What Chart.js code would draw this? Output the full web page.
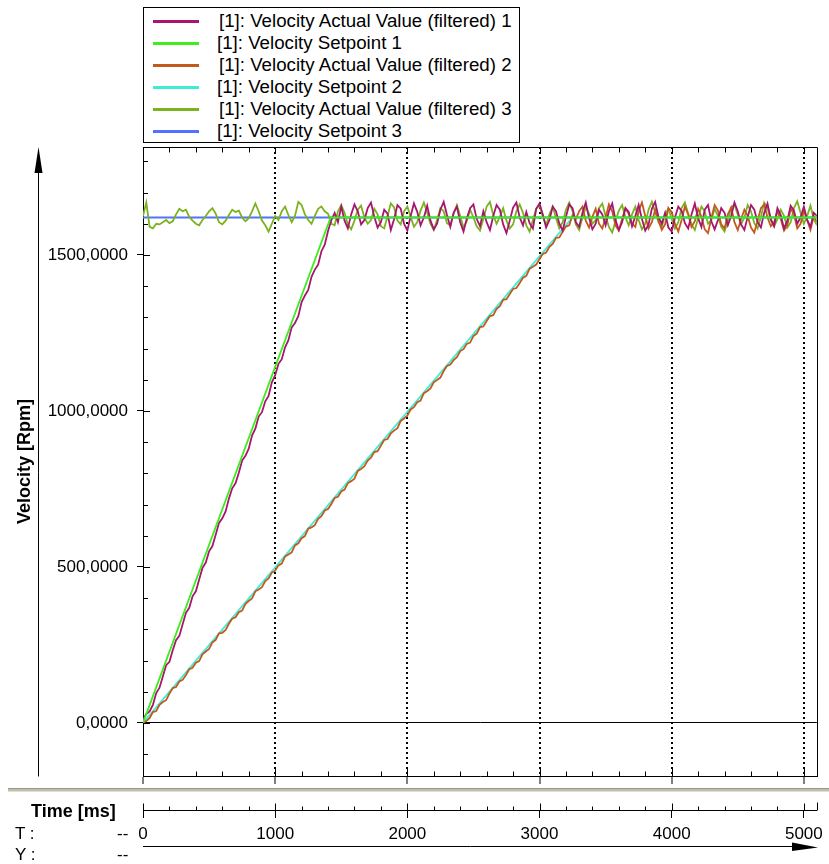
<!DOCTYPE html>
<html>
<head>
<meta charset="utf-8">
<title>Velocity</title>
<script src="https://cdn.jsdelivr.net/npm/chart.js@4.4.1/dist/chart.umd.min.js"></script>
<style>
  html, body { margin: 0; padding: 0; background: #fff; }
  body { width: 829px; height: 864px; position: relative; overflow: hidden;
         font-family: "Liberation Sans", Arial, sans-serif; color: #000; }
  #chart { position: absolute; left: 0; top: 0; }
  #legend { position: absolute; left: 143px; top: 7px; width: 375px; height: 134px;
            border: 1px solid #000; background: #fff; }
  .legend-item { position: absolute; left: 0; height: 22px; display: flex; align-items: center;
                 font-size: 18.7px; line-height: 1; white-space: nowrap; }
  .legend-swatch { width: 46px; height: 3px; margin-left: 9px; }
  .label { position: absolute; font-size: 17px; line-height: 1; white-space: nowrap; }
  .bold { font-weight: bold; font-size: 18px; }
</style>
</head>
<body>
<canvas id="chart" width="829" height="864"></canvas>
<div id="legend"></div>
<div class="label bold" style="left:31px;top:802px">Time [ms]</div>
<div class="label" style="left:15px;top:825px">T :</div>
<div class="label" style="left:117px;top:825px">--</div>
<div class="label" style="left:15px;top:846px">Y :</div>
<div class="label" style="left:117px;top:846px">--</div>

<script>
/* ── Data ─────────────────────────────────────────────── */

const seriesNames = [
  "[1]: Velocity Actual Value (filtered) 1",
  "[1]: Velocity Setpoint 1",
  "[1]: Velocity Actual Value (filtered) 2",
  "[1]: Velocity Setpoint 2",
  "[1]: Velocity Actual Value (filtered) 3",
  "[1]: Velocity Setpoint 3",
];
const seriesColors = ["#a8156f", "#3cee1e", "#c25a1e", "#40ecd8", "#7cb21e", "#4f72ff"];

// sample times of the recorded (filtered) actual values, ms
const timeMs = [
  0, 25, 50, 75, 100, 125, 150, 175, 200, 225, 250, 275, 300, 325, 350, 375, 400, 425, 450, 475,
  500, 525, 550, 575, 600, 625, 650, 675, 700, 725, 750, 775, 800, 825, 850, 875, 900, 925, 950, 975,
  1000, 1025, 1050, 1075, 1100, 1125, 1150, 1175, 1200, 1225, 1250, 1275, 1300, 1325, 1350, 1375, 1400, 1425, 1450, 1475,
  1500, 1525, 1550, 1575, 1600, 1625, 1650, 1675, 1700, 1725, 1750, 1775, 1800, 1825, 1850, 1875, 1900, 1925, 1950, 1975,
  2000, 2025, 2050, 2075, 2100, 2125, 2150, 2175, 2200, 2225, 2250, 2275, 2300, 2325, 2350, 2375, 2400, 2425, 2450, 2475,
  2500, 2525, 2550, 2575, 2600, 2625, 2650, 2675, 2700, 2725, 2750, 2775, 2800, 2825, 2850, 2875, 2900, 2925, 2950, 2975,
  3000, 3025, 3050, 3075, 3100, 3125, 3150, 3175, 3200, 3225, 3250, 3275, 3300, 3325, 3350, 3375, 3400, 3425, 3450, 3475,
  3500, 3525, 3550, 3575, 3600, 3625, 3650, 3675, 3700, 3725, 3750, 3775, 3800, 3825, 3850, 3875, 3900, 3925, 3950, 3975,
  4000, 4025, 4050, 4075, 4100, 4125, 4150, 4175, 4200, 4225, 4250, 4275, 4300, 4325, 4350, 4375, 4400, 4425, 4450, 4475,
  4500, 4525, 4550, 4575, 4600, 4625, 4650, 4675, 4700, 4725, 4750, 4775, 4800, 4825, 4850, 4875, 4900, 4925, 4950, 4975,
  5000, 5025, 5050, 5075, 5100,
];

const actual1 = [
  10, 29, 37, 58, 96, 113, 149, 185, 196, 233, 265, 279, 316, 353, 369, 406, 422, 460, 497, 514,
  550, 567, 603, 641, 656, 678, 719, 752, 768, 802, 841, 856, 879, 921, 943, 982, 996, 1031, 1048, 1092,
  1115, 1151, 1166, 1204, 1227, 1268, 1282, 1304, 1349, 1370, 1388, 1430, 1453, 1469, 1512, 1533, 1577, 1612, 1635, 1605,
  1655, 1610, 1585, 1630, 1662, 1640, 1598, 1612, 1650, 1668, 1622, 1588, 1605, 1645, 1632, 1580, 1615, 1660, 1648, 1600,
  1578, 1625, 1665, 1638, 1595, 1620, 1658, 1610, 1582, 1600, 1645, 1670, 1628, 1590, 1635, 1655, 1605, 1575, 1618, 1650,
  1662, 1615, 1592, 1640, 1605, 1580, 1625, 1660, 1645, 1598, 1570, 1610, 1652, 1668, 1620, 1595, 1638, 1602, 1585, 1648,
  1665, 1630, 1588, 1612, 1655, 1640, 1600, 1578, 1622, 1662, 1650, 1605, 1590, 1635, 1668, 1618, 1582, 1600, 1645, 1630,
  1595, 1640, 1665, 1612, 1580, 1605, 1650, 1638, 1592, 1625, 1660, 1615, 1578, 1598, 1648, 1670, 1622, 1600, 1635, 1588,
  1575, 1620, 1655, 1642, 1602, 1585, 1630, 1665, 1618, 1590, 1645, 1660, 1608, 1582, 1612, 1650, 1635, 1595, 1625, 1668,
  1640, 1598, 1580, 1622, 1660, 1645, 1605, 1588, 1635, 1665, 1615, 1592, 1650, 1628, 1585, 1610, 1658, 1642, 1600, 1620,
  1655, 1612, 1590, 1635, 1625,
];

const actual2 = [
  0, 6, 15, 35, 38, 58, 67, 73, 94, 112, 115, 133, 138, 154, 172, 177, 193, 198, 220, 229,
  237, 258, 266, 287, 289, 298, 318, 334, 339, 355, 360, 382, 391, 399, 422, 428, 435, 455, 463, 482,
  488, 505, 511, 534, 540, 547, 569, 576, 592, 599, 623, 627, 634, 654, 663, 681, 686, 702, 721, 725,
  742, 748, 769, 775, 783, 808, 814, 823, 841, 850, 868, 871, 889, 907, 910, 928, 937, 945, 968, 976,
  985, 1005, 1012, 1028, 1033, 1057, 1063, 1072, 1092, 1099, 1107, 1128, 1144, 1149, 1163, 1172, 1192, 1198, 1215, 1219,
  1240, 1248, 1269, 1271, 1288, 1304, 1307, 1327, 1336, 1356, 1358, 1375, 1391, 1394, 1410, 1427, 1433, 1456, 1462, 1469,
  1487, 1503, 1508, 1526, 1535, 1555, 1556, 1574, 1591, 1595, 1628, 1615, 1640, 1655, 1610, 1588, 1622, 1648, 1600, 1585,
  1620, 1662, 1640, 1595, 1578, 1615, 1650, 1632, 1600, 1590, 1640, 1668, 1625, 1585, 1605, 1645, 1610, 1580, 1598, 1650,
  1638, 1600, 1575, 1612, 1655, 1630, 1590, 1608, 1648, 1622, 1582, 1570, 1618, 1660, 1642, 1598, 1585, 1630, 1652, 1605,
  1580, 1615, 1645, 1625, 1588, 1572, 1610, 1650, 1662, 1620, 1592, 1605, 1640, 1615, 1578, 1595, 1648, 1630, 1585, 1600,
  1640, 1612, 1580, 1625, 1605,
];

const actual3 = [
  1625, 1668, 1590, 1585, 1600, 1598, 1605, 1612, 1602, 1608, 1630, 1648, 1640, 1645, 1622, 1610, 1600, 1595, 1612, 1625,
  1640, 1650, 1632, 1605, 1598, 1610, 1628, 1645, 1638, 1642, 1620, 1608, 1618, 1640, 1665, 1640, 1610, 1595, 1575, 1600,
  1625, 1612, 1640, 1655, 1628, 1605, 1625, 1670, 1660, 1630, 1612, 1600, 1625, 1648, 1655, 1640, 1632, 1600, 1595, 1640,
  1660, 1635, 1598, 1582, 1610, 1645, 1658, 1620, 1600, 1612, 1648, 1630, 1592, 1585, 1625, 1665, 1652, 1610, 1598, 1640,
  1655, 1622, 1590, 1605, 1642, 1668, 1635, 1600, 1580, 1612, 1650, 1640, 1602, 1595, 1632, 1660, 1625, 1588, 1608, 1645,
  1620, 1592, 1578, 1615, 1655, 1670, 1628, 1600, 1622, 1650, 1610, 1585, 1598, 1640, 1662, 1635, 1595, 1575, 1612, 1648,
  1660, 1622, 1595, 1630, 1655, 1618, 1585, 1605, 1645, 1668, 1640, 1598, 1580, 1620, 1652, 1632, 1600, 1612, 1650, 1665,
  1625, 1590, 1572, 1608, 1642, 1660, 1620, 1595, 1630, 1655, 1612, 1582, 1600, 1645, 1670, 1638, 1605, 1590, 1628, 1650,
  1615, 1585, 1605, 1650, 1668, 1632, 1598, 1580, 1618, 1655, 1640, 1600, 1612, 1648, 1625, 1590, 1575, 1610, 1652, 1662,
  1630, 1598, 1620, 1660, 1640, 1602, 1585, 1622, 1668, 1650, 1610, 1592, 1615, 1645, 1625, 1588, 1605, 1650, 1672, 1635,
  1600, 1625, 1658, 1615, 1595,
];

// setpoints are straight segments between corner points
const setpoint1Time = [0, 1420, 5100];
const setpoint1Vel  = [0, 1620, 1620];
const setpoint2Time = [0, 3250, 5100];
const setpoint2Vel  = [0, 1620, 1620];
const setpoint3Time = [0, 5100];
const setpoint3Vel  = [1620, 1620];

const X_MIN = 0, X_MAX = 5098;
const Y_MIN = -170, Y_MAX = 1846;

/* ── Helpers ──────────────────────────────────────────── */

function pairs(xs, ys) {
  return xs.map((x, i) => ({ x, y: ys[i] }));
}

function fmtVel(v) {
  return v.toFixed(4).replace(".", ",");
}

function buildLegend() {
  const box = document.getElementById("legend");
  seriesNames.forEach((name, i) => {
    const item = document.createElement("div");
    item.className = "legend-item";
    item.style.top = (2 + i * 22) + "px";
    const sw = document.createElement("span");
    sw.className = "legend-swatch";
    sw.style.background = seriesColors[i];
    sw.style.marginRight = (i % 2 === 0 ? 20 : 18) + "px";
    const txt = document.createElement("span");
    txt.textContent = name;
    item.appendChild(sw);
    item.appendChild(txt);
    box.appendChild(item);
  });
}

function lineSet(i, data, order) {
  return {
    label: seriesNames[i],
    data,
    borderColor: seriesColors[i],
    backgroundColor: "transparent",
    borderWidth: 1.8,
    pointRadius: 0,
    tension: 0,
    order,
  };
}

/* ── Frame / extra axis decoration ────────────────────── */

const framePlugin = {
  id: "frame",
  afterDraw(chart) {
    const { ctx, chartArea: a, scales } = chart;
    const x = scales.x, y = scales.y, x2 = scales.x2;
    const px = v => Math.round(x.getPixelForValue(v)) + 0.5;
    const py = v => Math.round(y.getPixelForValue(v)) + 0.5;
    const top = Math.round(a.top) + 0.5;
    const right = Math.round(a.right) + 0.5;
    const bottom = Math.round(a.bottom) + 0.5;
    const ay = Math.round(x2.top) + 0.5;

    ctx.save();
    ctx.strokeStyle = "#000";
    ctx.lineWidth = 1;
    ctx.beginPath();
    ctx.moveTo(a.left, top); ctx.lineTo(right, top); ctx.lineTo(right, bottom);

    x.ticks.forEach(t => {
      const major = t.value % 1000 === 0;
      ctx.moveTo(px(t.value), bottom); ctx.lineTo(px(t.value), bottom - (major ? 8 : 5));
      ctx.moveTo(px(t.value), top); ctx.lineTo(px(t.value), top + 5);
    });
    y.ticks.forEach(t => {
      const major = t.value % 500 === 0;
      ctx.moveTo(a.left, py(t.value)); ctx.lineTo(a.left + (major ? 7 : 5), py(t.value));
    });
    x2.ticks.forEach(t => {
      const major = t.value % 1000 === 0;
      ctx.moveTo(px(t.value), ay); ctx.lineTo(px(t.value), ay - (major ? 7 : 4));
    });
    ctx.moveTo(right, ay); ctx.lineTo(right, ay - 8);
    ctx.stroke();

    // vertical arrow of the velocity axis
    ctx.beginPath();
    ctx.moveTo(38.5, bottom); ctx.lineTo(38.5, 168);
    ctx.stroke();
    ctx.fillStyle = "#000";
    ctx.beginPath();
    ctx.moveTo(38.5, 147); ctx.lineTo(34.5, 173); ctx.lineTo(42.5, 173); ctx.closePath();
    ctx.fill();

    // horizontal arrow of the time axis
    ctx.beginPath();
    ctx.moveTo(a.left, 846.5); ctx.lineTo(798, 846.5);
    ctx.stroke();
    ctx.beginPath();
    ctx.moveTo(818, 847.5); ctx.lineTo(792, 842.5); ctx.lineTo(792, 851); ctx.closePath();
    ctx.fill();

    // groove separating the plot from the time ruler
    ctx.fillStyle = "#9a9688";
    ctx.fillRect(8, 788, 821, 1);
    ctx.fillStyle = "#c2beae";
    ctx.fillRect(8, 789, 821, 2);
    ctx.fillStyle = "#e2dfd4";
    ctx.fillRect(8, 791, 821, 1);
    ctx.restore();
  },
};

/* ── Chart ────────────────────────────────────────────── */

function render() {
  Chart.defaults.font.family = '"Liberation Sans", Arial, sans-serif';
  Chart.defaults.color = "#000";

  // lower order is drawn on top
  const datasets = [
    lineSet(0, pairs(timeMs, actual1), 1),
    lineSet(1, pairs(setpoint1Time, setpoint1Vel), 0),
    lineSet(2, pairs(timeMs, actual2), 2),
    lineSet(3, pairs(setpoint2Time, setpoint2Vel), 3),
    lineSet(4, pairs(timeMs, actual3), 4),
    lineSet(5, pairs(setpoint3Time, setpoint3Vel), 5),
  ];

  new Chart(document.getElementById("chart"), {
    type: "line",
    data: { datasets },
    plugins: [framePlugin],
    options: {
      responsive: false,
      animation: false,
      devicePixelRatio: 1,
      layout: { padding: { top: 147, right: 11, left: 0, bottom: 0 } },
      plugins: { legend: { display: false }, tooltip: { enabled: false } },
      scales: {
        x: {
          type: "linear",
          position: "bottom",
          min: X_MIN, max: X_MAX,
          ticks: { stepSize: 200, includeBounds: false, display: false },
          grid: {
            color: c => (c.tick && c.tick.value % 1000 === 0 && c.tick.value !== 0) ? "#000" : "rgba(0,0,0,0)",
            tickColor: c => (c.tick && c.tick.value % 1000 === 0) ? "#000" : "rgba(0,0,0,0)",
            tickLength: 8,
            lineWidth: 2,
            tickWidth: 1,
          },
          border: { color: "#000", width: 1, dash: c => c.type === "tick" ? [2, 3] : [] },
          afterFit: s => { s.height = 34; },
        },
        x2: {
          type: "linear",
          position: "bottom",
          min: X_MIN, max: X_MAX,
          ticks: {
            stepSize: 200, includeBounds: false, autoSkip: false, maxRotation: 0,
            font: { size: 17 }, padding: 6,
            callback: v => v % 1000 === 0 ? String(v) : "",
          },
          grid: {
            drawOnChartArea: false,
            tickColor: c => (c.tick && c.tick.value % 1000 === 0) ? "#000" : "rgba(0,0,0,0)",
            tickLength: 8,
          },
          border: { color: "#000", width: 1 },
          afterFit: s => { s.height = 54; },
        },
        y: {
          type: "linear",
          min: Y_MIN, max: Y_MAX,
          ticks: {
            stepSize: 100, includeBounds: false, autoSkip: false,
            font: { size: 17 }, padding: 9,
            callback: v => v % 500 === 0 ? fmtVel(v) : "",
          },
          grid: {
            color: c => (c.tick && c.tick.value === 0) ? "#000" : "rgba(0,0,0,0)",
            tickColor: c => (c.tick && c.tick.value % 500 === 0) ? "#000" : "rgba(0,0,0,0)",
            tickLength: 6,
          },
          border: { color: "#000", width: 1 },
          title: {
            display: true, text: "Velocity [Rpm]", color: "#000",
            font: { size: 18, weight: "bold" }, padding: { top: 14, bottom: 0 },
          },
          afterFit: s => { s.width = 143; },
        },
      },
    },
  });
}

buildLegend();
render();
</script>
</body>
</html>
